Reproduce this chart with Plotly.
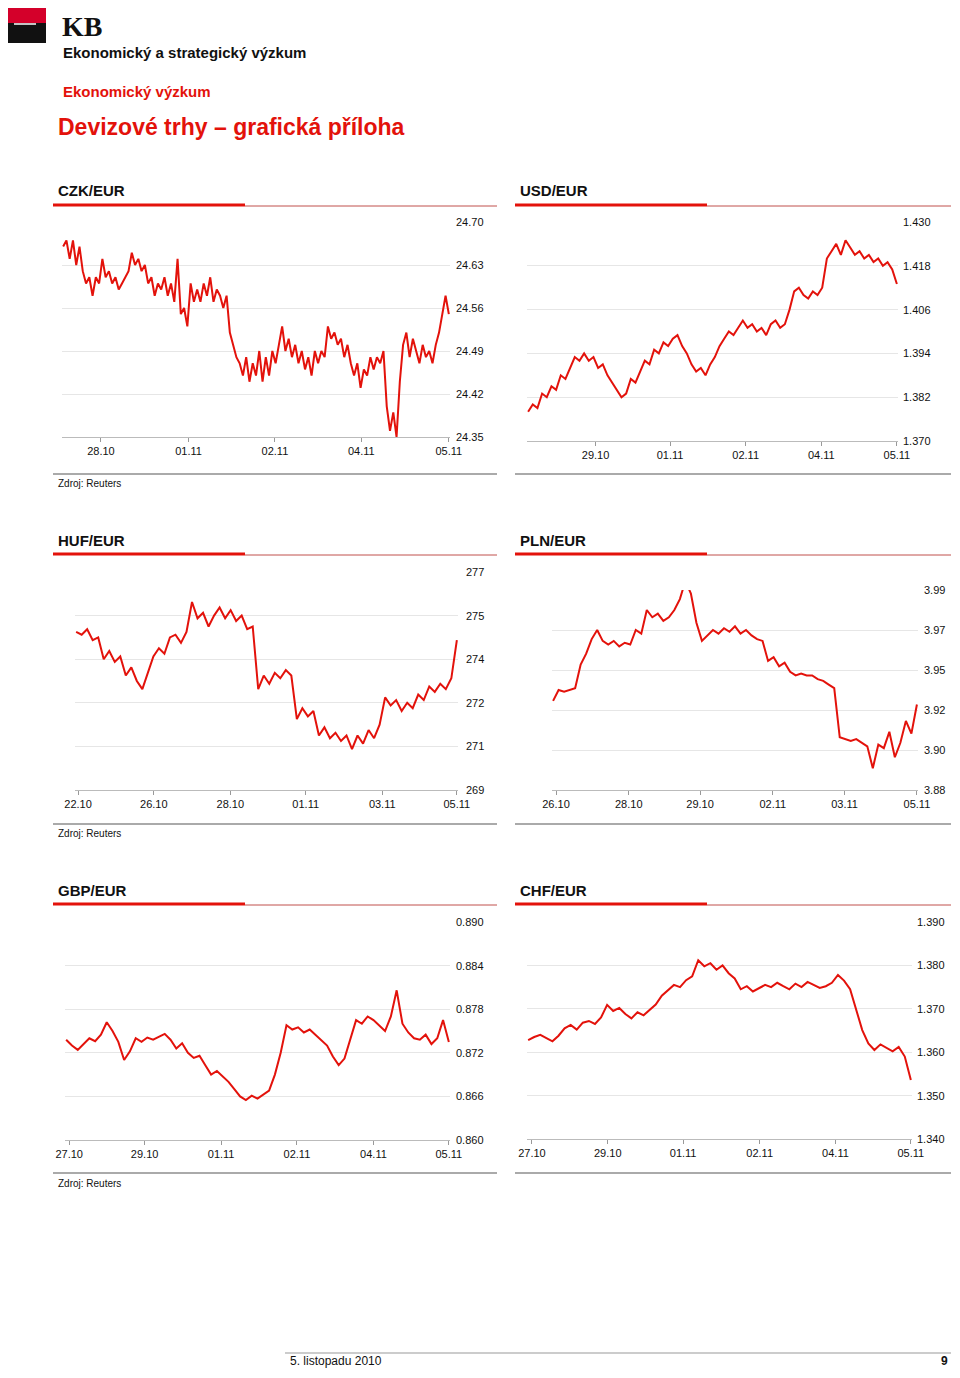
import numpy as np
import plotly.graph_objects as go

W, H = 944, 1360
OFF = 8
RED = "#e3120b"
FONT = "Liberation Sans, Arial, sans-serif"

# ---------------- data ----------------
czk_vals = [24.66,24.67,24.64,24.67,24.63,24.66,24.62,24.60,24.61,24.58,24.61,24.60,24.64,24.61,24.62,24.60,
            24.61,24.59,24.60,24.61,24.62,24.65,24.63,24.64,24.62,24.63,24.60,24.61,24.58,24.60,24.59,24.61,
            24.58,24.60,24.57,24.64,24.55,24.56,24.53,24.60,24.57,24.59,24.57,24.60,24.58,24.61,24.57,24.59,
            24.58,24.56,24.58,24.52,24.50,24.48,24.47,24.45,24.48,24.44,24.47,24.45,24.49,24.44,24.48,24.45,
            24.49,24.47,24.50,24.53,24.49,24.51,24.48,24.50,24.47,24.49,24.46,24.48,24.45,24.49,24.47,24.49,
            24.48,24.53,24.51,24.52,24.50,24.51,24.48,24.50,24.47,24.45,24.47,24.43,24.46,24.45,24.48,24.46,
            24.48,24.47,24.49,24.40,24.36,24.39,24.35,24.44,24.50,24.52,24.48,24.51,24.49,24.47,24.50,24.48,
            24.49,24.47,24.50,24.52,24.55,24.58,24.55]
czk_ticks = [24.70, 24.63, 24.56, 24.49, 24.42, 24.35]
czk_dates = ["28.10", "01.11", "02.11", "04.11", "05.11"]
czk_datepos = [0.098, 0.325, 0.549, 0.773, 1.0]

usd_vals = [1.378,1.380,1.379,1.383,1.382,1.385,1.384,1.388,1.387,1.390,1.393,1.392,1.394,1.392,1.393,1.390,
            1.391,1.388,1.386,1.384,1.382,1.383,1.387,1.386,1.389,1.392,1.391,1.395,1.394,1.397,1.396,1.398,
            1.399,1.396,1.394,1.391,1.389,1.390,1.388,1.391,1.393,1.396,1.398,1.400,1.399,1.401,1.403,1.401,
            1.402,1.400,1.401,1.399,1.402,1.403,1.401,1.402,1.406,1.411,1.412,1.410,1.409,1.411,1.410,1.412,
            1.420,1.422,1.424,1.421,1.425,1.423,1.421,1.422,1.420,1.421,1.419,1.420,1.418,1.419,1.417,1.413]
usd_ticks = [1.430, 1.418, 1.406, 1.394, 1.382, 1.370]
usd_dates = ["29.10", "01.11", "02.11", "04.11", "05.11"]
usd_datepos = [0.183, 0.385, 0.590, 0.795, 1.0]

huf_vals = [274.8,274.7,274.9,274.5,274.6,273.8,274.1,273.7,273.9,273.2,273.5,273.0,272.7,273.3,273.9,
            274.2,274.0,274.6,274.7,274.4,274.8,275.9,275.3,275.5,275.0,275.4,275.7,275.3,275.6,275.2,
            275.4,274.9,275.0,272.7,273.2,272.9,273.3,273.1,273.4,273.2,271.6,272.0,271.7,271.9,271.0,
            271.3,270.9,271.1,270.8,271.0,270.5,271.0,270.7,271.2,270.9,271.4,272.4,272.1,272.3,271.9,
            272.2,272.0,272.5,272.3,272.8,272.6,272.9,272.7,273.1,274.5]
huf_ticks = [277.0, 275.4, 273.8, 272.2, 270.6, 269.0]
huf_ticktext = ["277", "275", "274", "272", "271", "269"]
huf_dates = ["22.10", "26.10", "28.10", "01.11", "03.11", "05.11"]
huf_datepos = [0.005, 0.204, 0.405, 0.603, 0.804, 1.0]

pln_vals = [3.929,3.935,3.934,3.935,3.936,3.949,3.955,3.963,3.968,3.962,3.960,3.962,3.959,3.961,3.960,
            3.968,3.966,3.979,3.975,3.977,3.973,3.975,3.979,3.985,3.995,3.988,3.972,3.962,3.965,3.968,
            3.966,3.969,3.967,3.970,3.966,3.968,3.965,3.963,3.962,3.951,3.953,3.948,3.950,3.945,3.943,
            3.944,3.943,3.943,3.941,3.940,3.938,3.936,3.909,3.908,3.907,3.908,3.906,3.904,3.892,3.905,
            3.903,3.912,3.898,3.906,3.918,3.911,3.927]
pln_ticks = [3.990, 3.968, 3.946, 3.924, 3.902, 3.880]
pln_ticktext = ["3.99", "3.97", "3.95", "3.92", "3.90", "3.88"]
pln_dates = ["26.10", "28.10", "29.10", "02.11", "03.11", "05.11"]
pln_datepos = [0.008, 0.208, 0.404, 0.604, 0.801, 1.0]

gbp_vals = [0.8738,0.8730,0.8724,0.8732,0.8740,0.8736,0.8745,0.8762,0.8750,0.8735,0.8710,0.8722,0.8740,
            0.8735,0.8741,0.8738,0.8742,0.8746,0.8738,0.8726,0.8733,0.8720,0.8713,0.8716,0.8703,0.8690,
            0.8695,0.8688,0.8680,0.8670,0.8660,0.8655,0.8661,0.8657,0.8663,0.8668,0.8690,0.8720,0.8758,
            0.8752,0.8755,0.8748,0.8752,0.8745,0.8738,0.8730,0.8715,0.8703,0.8712,0.8740,0.8765,0.8760,
            0.8770,0.8765,0.8758,0.8750,0.8770,0.8806,0.8760,0.8748,0.8740,0.8738,0.8745,0.8732,0.8740,
            0.8765,0.8735]
gbp_ticks = [0.890, 0.884, 0.878, 0.872, 0.866, 0.860]
gbp_dates = ["27.10", "29.10", "01.11", "02.11", "04.11", "05.11"]
gbp_datepos = [0.008, 0.205, 0.405, 0.603, 0.803, 1.0]

chf_vals = [1.3628,1.3635,1.3640,1.3632,1.3625,1.3638,1.3655,1.3663,1.3652,1.3668,1.3672,1.3665,1.3680,
            1.3709,1.3695,1.3702,1.3688,1.3678,1.3692,1.3685,1.3698,1.3710,1.3730,1.3743,1.3755,1.3750,
            1.3766,1.3775,1.3812,1.3798,1.3805,1.3790,1.3800,1.3782,1.3770,1.3745,1.3752,1.3740,1.3748,
            1.3755,1.3750,1.3760,1.3752,1.3745,1.3758,1.3750,1.3762,1.3755,1.3748,1.3752,1.3760,1.3778,
            1.3765,1.3745,1.3700,1.3651,1.3620,1.3605,1.3618,1.3610,1.3602,1.3612,1.3590,1.3536]
chf_ticks = [1.390, 1.380, 1.370, 1.360, 1.350, 1.340]
chf_dates = ["27.10", "29.10", "01.11", "02.11", "04.11", "05.11"]
chf_datepos = [0.010, 0.208, 0.405, 0.605, 0.803, 1.0]

# ---------------- layout helpers ----------------
def px(x):
    return (x - OFF) / W

def py(y):
    return 1 - (y - OFF) / H

fig = go.Figure()
shapes, annots = [], []
layout = {}

charts = [
    ("CZK/EUR", czk_vals, czk_ticks, ["%.2f" % t for t in czk_ticks], czk_dates, czk_datepos, (62, 450, 222, 437), 486, (53, 497, 191, 205, 474)),
    ("USD/EUR", usd_vals, usd_ticks, ["%.3f" % t for t in usd_ticks], usd_dates, usd_datepos, (527, 898, 222, 441), 933, (515, 951, 191, 205, 474)),
    ("HUF/EUR", huf_vals, huf_ticks, huf_ticktext, huf_dates, huf_datepos, (75, 458, 572, 790), 486, (53, 497, 541, 554, 824)),
    ("PLN/EUR", pln_vals, pln_ticks, pln_ticktext, pln_dates, pln_datepos, (552, 918, 590, 790), 947, (515, 951, 541, 554, 824)),
    ("GBP/EUR", gbp_vals, gbp_ticks, ["%.3f" % t for t in gbp_ticks], gbp_dates, gbp_datepos, (65, 450, 922, 1140), 486, (53, 497, 890, 904, 1173)),
    ("CHF/EUR", chf_vals, chf_ticks, ["%.3f" % t for t in chf_ticks], chf_dates, chf_datepos, (527, 912, 922, 1139), 947, (515, 951, 890, 904, 1173)),
]

for i, (title, vals, ticks, ttext, dates, dpos, plot, lab_x, block) in enumerate(charts):
    n = i + 1
    xa = "x" if n == 1 else "x%d" % n
    ya = "y" if n == 1 else "y%d" % n
    x0, x1, yt, yb = plot
    fig.add_trace(go.Scatter(x=np.linspace(0, 1, len(vals)), y=vals, mode="lines",
                             line=dict(color=RED, width=2), xaxis=xa, yaxis=ya,
                             showlegend=False, hoverinfo="skip"))
    layout["xaxis" if n == 1 else "xaxis%d" % n] = dict(
        domain=[px(x0), px(x1)], anchor=ya, range=[-0.003, 1.003], automargin=False,
        tickvals=dpos, ticktext=dates, ticks="outside", ticklen=4, tickcolor="#999",
        showline=True, linecolor="#bbb", showgrid=False, zeroline=False,
        tickfont=dict(family=FONT, size=11, color="#111"))
    layout["yaxis" if n == 1 else "yaxis%d" % n] = dict(
        domain=[py(yb), py(yt)], anchor=xa, range=[min(ticks), max(ticks)], automargin=False,
        tickvals=ticks, showticklabels=False, showgrid=True, gridcolor="#e6e6e6",
        gridwidth=1, zeroline=False, showline=False)
    for t, tt in zip(ticks, ttext):
        annots.append(dict(x=px(lab_x), xref="paper", y=t, yref=ya, text=tt, showarrow=False,
                           xanchor="right", yanchor="middle",
                           font=dict(family=FONT, size=11, color="#111")))
    bx0, bx1, ty, ly, ry = block
    annots.append(dict(x=px(bx0 + 3), y=py(ty), xref="paper", yref="paper", text="<b>%s</b>" % title,
                       showarrow=False, xanchor="left", yanchor="middle",
                       font=dict(family=FONT, size=15, color="#111")))
    shapes.append(dict(type="line", xref="paper", yref="paper", x0=px(bx0), x1=px(bx0 + 192),
                       y0=py(ly), y1=py(ly), line=dict(color=RED, width=3)))
    shapes.append(dict(type="line", xref="paper", yref="paper", x0=px(bx0 + 192), x1=px(bx1),
                       y0=py(ly + 1), y1=py(ly + 1), line=dict(color="#c0504d", width=1)))
    shapes.append(dict(type="line", xref="paper", yref="paper", x0=px(bx0), x1=px(bx1),
                       y0=py(ry), y1=py(ry), line=dict(color="#aaa", width=2)))
    if i % 2 == 0:
        annots.append(dict(x=px(56), y=py(ry + 10), xref="paper", yref="paper", text="Zdroj: Reuters",
                           showarrow=False, xanchor="left", yanchor="middle",
                           font=dict(family=FONT, size=10, color="#111")))

# header
shapes.append(dict(type="rect", xref="paper", yref="paper", x0=px(8), x1=px(46), y0=py(23), y1=py(8),
                   fillcolor="#d4002a", line=dict(width=0)))
shapes.append(dict(type="rect", xref="paper", yref="paper", x0=px(8), x1=px(46), y0=py(43), y1=py(23),
                   fillcolor="#111", line=dict(width=0)))
shapes.append(dict(type="line", xref="paper", yref="paper", x0=px(14), x1=px(36), y0=py(24), y1=py(24),
                   line=dict(color="white", width=1.5)))
hdr = [
    dict(x=px(60), y=py(27), text="<b>KB</b>", font=dict(family="Liberation Serif, serif", size=28, color="#111")),
    dict(x=px(61), y=py(53), text="<b>Ekonomický a strategický výzkum</b>", font=dict(family=FONT, size=15, color="#111")),
    dict(x=px(61), y=py(91), text="<b>Ekonomický výzkum</b>", font=dict(family=FONT, size=15, color=RED)),
    dict(x=px(56), y=py(127), text="<b>Devizové trhy – grafická příloha</b>", font=dict(family=FONT, size=23, color=RED)),
    dict(x=px(288), y=py(1361), text="5. listopadu 2010", font=dict(family=FONT, size=12, color="#111")),
    dict(x=px(950), y=py(1361), text="<b>9</b>", xanchor="right", font=dict(family=FONT, size=12, color="#111")),
]
for a in hdr:
    a.setdefault("xanchor", "left")
    a.update(xref="paper", yref="paper", yanchor="middle", showarrow=False)
annots += hdr
shapes.append(dict(type="line", xref="paper", yref="paper", x0=px(285), x1=px(951), y0=py(1353), y1=py(1353),
                   line=dict(color="#999", width=1)))

fig.update_layout(width=W, height=H, margin=dict(l=0, r=0, t=0, b=0, pad=0, autoexpand=False),
                  paper_bgcolor="white", plot_bgcolor="white", shapes=shapes, annotations=annots, **layout)
fig.write_html("out.html")
